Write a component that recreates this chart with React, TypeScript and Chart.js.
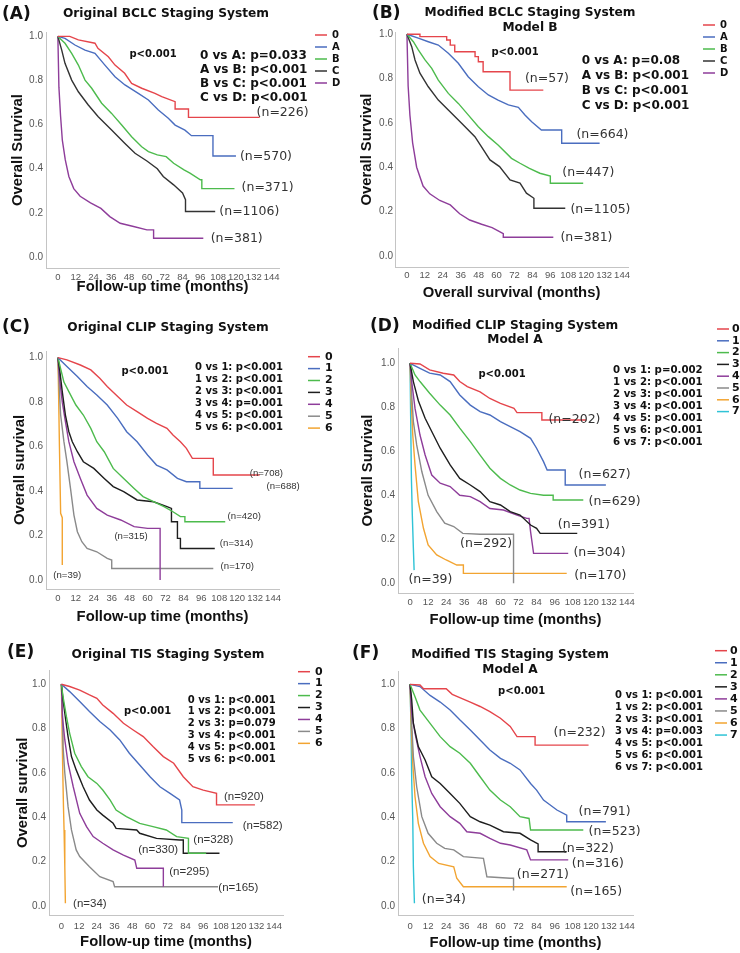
import React, { useEffect, useRef } from 'react';
import { Chart, registerables } from 'chart.js';
Chart.register(...registerables);

type Pt = [number, number];

// ---------- shared ticks ----------
const xTicks = [0, 12, 24, 36, 48, 60, 72, 84, 96, 108, 120, 132, 144];
const yTicks = [0, 0.2, 0.4, 0.6, 0.8, 1.0];

// ---------- Panel A: Original BCLC ----------
const aStages = ['0', 'A', 'B', 'C', 'D'];
const aN = [226, 570, 371, 1106, 381];
const aCompare = ['0 vs A: p=0.033', 'A vs B: p<0.001', 'B vs C: p<0.001', 'C vs D: p<0.001'];
const aS0: Pt[] = [[0, 1], [8, 1], [13.8, .984], [25, .969], [27, .946], [34, .908], [38.5, .87], [45, .833], [49.7, .787], [56.5, .765], [65.4, .742], [70, .727], [79, .704], [79, .671], [88, .671], [88, .633], [136, .633]];
const aSA: Pt[] = [[0, 1], [4.8, .991], [11.5, .961], [18.3, .938], [25, .923], [31.7, .87], [38.5, .817], [45.2, .78], [54.2, .742], [61, .712], [67.7, .666], [74.4, .629], [79, .598], [85.6, .575], [90, .55], [104.5, .55], [104.5, .458], [120, .458]];
const aSB: Pt[] = [[0, 1], [4.8, .969], [9.3, .923], [13.8, .87], [18.3, .802], [22.8, .765], [29.5, .697], [36.2, .651], [43, .598], [49.7, .545], [56.5, .50], [61, .478], [67, .463], [73, .455], [78, .425], [85, .395], [89, .38], [96, .35], [97, .35], [97, .31], [119, .31]];
const aSC: Pt[] = [[0, 1], [2.6, .938], [4.8, .878], [9.3, .802], [13.8, .749], [20.5, .689], [27.2, .636], [36.2, .576], [45.2, .515], [52, .47], [60, .435], [67, .40], [71, .365], [78, .327], [84, .29], [86, .26], [86, .206], [106, .206]];
const aSD: Pt[] = [[0, 1], [0.7, .77], [1.8, .64], [3, .53], [5, .44], [7.4, .365], [10.7, .31], [15, .275], [22, .245], [29, .22], [35, .183], [42, .153], [51, .138], [60, .123], [64.5, .123], [64.5, .085], [98, .085]];

// ---------- Panel B: Modified BCLC (Model B) ----------
const bStages = ['0', 'A', 'B', 'C', 'D'];
const bN = [57, 664, 447, 1105, 381];
const bCompare = ['0 vs A: p=0.08', 'A vs B: p<0.001', 'B vs C: p<0.001', 'C vs D: p<0.001'];
const bS0: Pt[] = [[0, 1], [8.7, 1], [8.7, .989], [26.6, .989], [26.6, .974], [29, .974], [29, .951], [32, .951], [32, .921], [45.6, .921], [45.6, .899], [47.8, .899], [47.8, .876], [51, .876], [51, .831], [69, .831], [69, .748], [91.3, .748]];
const bSA: Pt[] = [[0, 1], [7.6, .982], [14.3, .966], [21, .951], [27.7, .914], [34.4, .869], [41, .808], [47.8, .763], [54.5, .726], [61, .703], [67.9, .681], [74.6, .67], [79, .636], [83.5, .605], [90, .568], [103.6, .568], [103.6, .508], [129, .508]];
const bSB: Pt[] = [[0, 1], [4.3, .966], [7.6, .929], [12.1, .884], [16.6, .846], [21, .793], [27.7, .733], [34.4, .688], [41, .636], [47.8, .583], [54.5, .538], [61, .50], [70, .44], [75.7, .418], [82, .395], [89, .373], [96, .36], [96, .328], [118, .328]];
const bSC: Pt[] = [[0, 1], [3.2, .944], [5.4, .884], [8.7, .824], [14.3, .763], [21, .703], [27.7, .658], [36.6, .598], [45.5, .538], [52, .47], [55.6, .433], [62, .403], [69, .343], [75.7, .328], [80, .283], [85, .26], [85, .215], [106, .215]];
const bSD: Pt[] = [[0, 1], [0.8, .766], [2, .634], [3.8, .51], [6.5, .40], [10.8, .315], [15.3, .28], [22, .25], [29, .23], [35.3, .19], [42, .162], [50, .143], [57, .128], [62, .11], [64.5, .10], [64.5, .084], [98, .084]];

// ---------- Panel C: Original CLIP ----------
const cStages = ['0', '1', '2', '3', '4', '5', '6'];
const cN = [708, 688, 420, 314, 315, 170, 39];
const cCompare = ['0 vs 1: p<0.001', '1 vs 2: p<0.001', '2 vs 3: p<0.001', '3 vs 4: p=0.001', '4 vs 5: p<0.001', '5 vs 6: p<0.001'];
const cS0: Pt[] = [[0, 1], [6, .99], [15, .967], [22, .945], [28, .907], [33, .87], [40, .825], [46, .787], [53, .757], [60, .727], [66, .705], [73, .682], [77, .652], [82, .622], [86, .592], [90, .547], [104, .547], [104, .472], [135, .472]];
const cS1: Pt[] = [[0, 1], [6, .96], [13, .915], [19.5, .87], [26, .832], [33, .787], [40, .727], [46, .667], [53, .622], [60, .562], [66, .517], [73, .495], [80, .457], [86, .442], [95, .442], [95, .412], [117, .412]];
const cS2: Pt[] = [[0, 1], [1.8, .95], [4, .89], [7.3, .847], [12, .787], [17, .742], [22, .682], [26, .622], [31, .577], [37, .502], [44, .457], [51, .412], [57, .375], [64, .352], [71, .33], [77, .307], [82, .285], [85, .285], [85, .262], [112, .262]];
const cS3: Pt[] = [[0, 1], [1.3, .937], [2.9, .847], [5, .742], [7.3, .667], [9.6, .622], [13, .577], [17, .532], [24, .502], [31, .457], [37, .42], [44, .397], [53, .36], [64, .352], [73, .33], [76, .322], [76, .262], [80, .262], [80, .187], [82, .187], [82, .142], [105, .142]];
const cS4: Pt[] = [[0, 1], [1.3, .892], [2.9, .80], [5, .712], [7.3, .622], [10.7, .532], [15, .457], [19.5, .382], [26, .322], [33, .292], [42, .27], [51, .24], [60, .232], [68.4, .232], [68.4, 0]];
const cS5: Pt[] = [[0, 1], [0.7, .89], [1.8, .742], [4, .622], [6, .532], [8.4, .412], [10.7, .292], [13, .217], [16, .172], [19.5, .142], [26, .127], [33, .097], [36, .09], [36, .052], [104, .052]];
const cS6: Pt[] = [[0, 1], [0.4, .85], [1, .6], [1.8, .3], [2.9, .28], [2.9, .067]];

// ---------- Panel D: Modified CLIP (Model A) ----------
const dStages = ['0', '1', '2', '3', '4', '5', '6', '7'];
const dN = [202, 627, 629, 391, 304, 292, 170, 39];
const dCompare = ['0 vs 1: p=0.002', '1 vs 2: p<0.001', '2 vs 3: p<0.001', '3 vs 4: p<0.001', '4 vs 5: p<0.001', '5 vs 6: p<0.001', '6 vs 7: p<0.001'];
const dS0: Pt[] = [[0, 1], [6.6, .997], [13, .97], [22, .955], [29, .947], [33, .917], [38, .894], [46.5, .87], [53, .84], [60, .818], [69, .795], [71, .776], [87.5, .776], [87.5, .742], [117, .742]];
const dS1: Pt[] = [[0, 1], [6.6, .977], [13, .955], [20, .947], [26.6, .917], [33, .856], [40, .81], [46.5, .78], [53, .765], [60, .735], [66.5, .712], [73, .689], [80, .659], [84, .614], [88.6, .553], [91, .515], [103, .515], [103, .447], [130, .447]];
const dS2: Pt[] = [[0, 1], [3.3, .947], [6.6, .917], [13, .864], [20, .81], [26.6, .765], [33, .705], [40, .644], [46.5, .583], [53, .523], [60, .477], [66.5, .447], [73, .424], [80, .409], [88.6, .40], [95, .40], [95, .379], [115, .379]];
const dS3: Pt[] = [[0, 1], [2.2, .917], [5.5, .83], [10, .75], [14.4, .69], [20, .614], [26.6, .538], [33, .477], [40, .447], [46.5, .417], [53, .371], [60, .356], [66.5, .326], [73, .31], [80, .265], [84, .25], [86.4, .227], [111, .227]];
const dS4: Pt[] = [[0, 1], [1.1, .917], [3.3, .795], [6.6, .674], [10, .583], [14.4, .492], [20, .455], [26.6, .44], [33, .40], [40, .394], [46.5, .371], [53, .34], [62, .333], [71, .31], [77.5, .295], [79, .295], [80, .235], [82, .136], [105, .136]];
const dS5: Pt[] = [[0, 1], [1.1, .856], [2.2, .735], [4.4, .629], [7.8, .508], [12, .40], [17.7, .326], [23, .273], [29, .258], [35, .227], [46.5, .223], [68.7, .223], [68.7, 0]];
const dS6: Pt[] = [[0, 1], [0.7, .84], [1.8, .674], [3.3, .538], [5.5, .371], [8.9, .25], [12, .174], [17.7, .129], [24, .106], [31, .083], [35.4, .083], [35.4, .045], [104, .045]];
const dS7: Pt[] = [[0, 1], [0.4, .76], [0.9, .477], [1.5, .31], [2.2, .16], [2.7, .06]];

// ---------- Panel E: Original TIS ----------
const eStages = ['0', '1', '2', '3', '4', '5', '6'];
const eN = [920, 582, 328, 330, 295, 165, 34];
const eCompare = ['0 vs 1: p<0.001', '1 vs 2: p<0.001', '2 vs 3: p=0.079', '3 vs 4: p<0.001', '4 vs 5: p<0.001', '5 vs 6: p<0.001'];
const eS0: Pt[] = [[0, 1], [5.6, .99], [12.4, .974], [19, .952], [24, .937], [28, .907], [35, .869], [42, .824], [48.6, .794], [55.4, .764], [62, .719], [69, .674], [76, .644], [82.5, .583], [89, .538], [96, .523], [105, .508], [105, .456], [131, .456]];
const eS1: Pt[] = [[0, 1], [5.6, .967], [12.4, .922], [19, .877], [26, .832], [33, .794], [39.5, .749], [46, .689], [53, .636], [60, .583], [66.7, .538], [73.5, .508], [80, .478], [81.5, .433], [81.5, .376], [116, .376]];
const eS2: Pt[] = [[0, 1], [1.1, .944], [3.4, .854], [5.6, .779], [9, .689], [13.5, .629], [18, .583], [24, .553], [28, .523], [33, .478], [37, .433], [44, .403], [53, .373], [62, .358], [71, .343], [78, .313], [86, .305], [86, .238], [98, .238]];
const eS3: Pt[] = [[0, 1], [1.1, .93], [2.9, .839], [4.5, .764], [6.8, .674], [10, .614], [14.7, .538], [19, .478], [24, .433], [28, .41], [35, .373], [37, .35], [51, .343], [53, .328], [64.4, .305], [80, .298], [82.5, .298], [82.5, .238], [107, .238]];
const eS4: Pt[] = [[0, 1], [0.7, .854], [2.3, .749], [4.5, .644], [8, .538], [12.4, .418], [17, .358], [21.5, .313], [28, .283], [35, .253], [42, .23], [49.7, .207], [51, .17], [69, .17], [69, .087]];
const eS5: Pt[] = [[0, 1], [0.7, .87], [1.1, .72], [2.3, .60], [4.5, .448], [6.8, .343], [10, .253], [12.4, .223], [19, .177], [26, .132], [35, .11], [36, .087], [106, .087]];
const eS6: Pt[] = [[0, 1], [0.45, .794], [0.9, .613], [1.4, .448], [1.8, .343], [2.3, .177], [2.7, .012]];

// ---------- Panel F: Modified TIS (Model A) ----------
const fStages = ['0', '1', '2', '3', '4', '5', '6', '7'];
const fN = [232, 791, 523, 322, 316, 271, 165, 34];
const fCompare = ['0 vs 1: p<0.001', '1 vs 2: p<0.001', '2 vs 3: p<0.001', '3 vs 4: p=0.003', '4 vs 5: p<0.001', '5 vs 6: p<0.001', '6 vs 7: p<0.001'];
const fS0: Pt[] = [[0, 1], [6.6, .997], [9, .98], [24, .98], [28, .955], [33, .94], [40, .92], [46.5, .90], [53, .877], [60, .847], [66.5, .81], [71, .764], [83, .764], [83, .726], [118.5, .726]];
const fS1: Pt[] = [[0, 1], [6.6, .99], [13.3, .95], [20, .92], [26.6, .884], [33, .84], [40, .794], [46.5, .749], [53, .704], [60, .666], [66.5, .644], [73, .614], [80, .553], [84, .523], [88.6, .478], [97.5, .433], [104, .41], [104, .38], [130, .38]];
const fS2: Pt[] = [[0, 1], [3.3, .944], [6.6, .884], [13.3, .824], [20, .764], [26.6, .719], [33, .689], [40, .644], [46.5, .583], [53, .523], [60, .478], [66.5, .448], [73, .403], [79, .395], [80, .343], [115, .343]];
const fS3: Pt[] = [[0, 1], [1.1, .93], [2.2, .824], [5.5, .719], [10, .659], [14.4, .583], [20, .553], [26.6, .508], [33, .463], [40, .403], [46.5, .38], [53, .365], [62, .335], [73, .328], [80, .298], [85, .28], [85, .245], [104, .245]];
const fS4: Pt[] = [[0, 1], [1.1, .87], [3.3, .779], [6.6, .674], [10, .583], [14.4, .508], [20, .448], [26.6, .403], [33, .373], [37.7, .335], [46.5, .328], [53, .305], [60, .283], [66.5, .275], [77.5, .253], [80, .208], [105, .208]];
const fS5: Pt[] = [[0, 1], [1.1, .824], [2.2, .674], [4.4, .538], [7.8, .403], [12, .328], [17.7, .283], [23, .26], [29, .253], [35.4, .223], [48.7, .215], [51, .132], [66.5, .125], [68.7, .125], [68.7, .07]];
const fS6: Pt[] = [[0, 1], [0.7, .824], [1.8, .644], [3.3, .493], [5.5, .373], [8.9, .283], [13.3, .223], [19, .192], [29, .177], [31, .125], [35.4, .087], [104, .087]];
const fS7: Pt[] = [[0, 1], [0.7, .79], [1.1, .568], [1.8, .39], [2.2, .177], [2.9, .012]];

// ---------- styles (kept apart from data) ----------
const palette = ['#e5454b', '#4a6dbf', '#4dbb4d', '#1e1e1e', '#8e3d9a', '#8a8a8a', '#f2a431', '#2fc3d6'];
const bclcPalette = ['#e5454b', '#4a6dbf', '#4dbb4d', '#333333', '#8e3d9a'];

// n-label anchor positions in data space (months, survival)
const aNPos: Pt[] = [[133.9, .652], [122.7, .455], [123.8, .312], [108.8, .206], [103, .081]];
const bNPos: Pt[] = [[79, .798], [113.5, .546], [104, .373], [109.5, .21], [102.8, .084]];
const cNPos: Pt[] = [[128.4, .48], [139.6, .42], [113.6, .285], [108.4, .165], [37.8, .195], [108.9, .06], [-3.1, .022]];
const dNPos: Pt[] = [[91.9, .745], [111.9, .492], [118.5, .371], [98.1, .265], [108.5, .141], [33.2, .182], [109, .035], [-1.1, .015]];
const eNPos: Pt[] = [[110, .493], [122.7, .36], [89.3, .298], [52, .253], [73, .152], [106.2, .083], [7.9, .009]];
const fNPos: Pt[] = [[95.3, .782], [111.9, .426], [118.5, .335], [100.8, .26], [107.4, .192], [70.9, .14], [106.3, .065], [7.8, .027]];

type TextItem = { text: string; x: number; y: number; font: string; align?: CanvasTextAlign };
type PanelSpec = {
  left: number; top: number; width: number; height: number;
  padding: { top: number; right: number; bottom: number; left: number };
  yWidth: number; xHeight: number;
  xMin: number; xMax: number; yMin: number; yMax: number;
  yTitle: string | null; yTitlePad: number; xTitle: string; xTitlePad: number;
  yTickPad: number; xTickPad: number;
  curves: { label: string; pts: Pt[]; color: string }[];
  texts: TextItem[];
  legend: { x0: number; x1: number; labelX: number; y0: number; dy: number; font: string };
  pBlock: { x: number; y0: number; dy: number; font: string; lines: string[] };
  nLabels: { text: string; at: Pt }[];
  nFont: string;
};

const DV = "'DejaVu Sans', Verdana, sans-serif";
const LS = "'Liberation Sans', Arial, sans-serif";
const TITLE_FONT = `bold 12.2px ${DV}`;
const PANEL_FONT = `bold 17px ${DV}`;
const PMAIN_FONT = `bold 10px ${DV}`;

function curvesOf(labels: string[], series: Pt[][], colors: string[]) {
  return labels.map((l, i) => ({ label: l, pts: series[i], color: colors[i] }));
}
function nOf(ns: number[], pos: Pt[]) {
  return ns.map((n, i) => ({ text: `(n=${n})`, at: pos[i] }));
}

const panels: PanelSpec[] = [
  {
    left: 0, top: 0, width: 355, height: 315,
    padding: { top: 32, right: 76, bottom: 0, left: 0 }, yWidth: 46, xHeight: 47,
    xMin: -8, xMax: 149, yMin: -0.05, yMax: 1.02,
    yTitle: 'Overall Survival', yTitlePad: 9, xTitle: 'Follow-up time (months)', xTitlePad: 19,
    yTickPad: 3, xTickPad: 4,
    curves: curvesOf(aStages, [aS0, aSA, aSB, aSC, aSD], bclcPalette),
    texts: [
      { text: '(A)', x: 2, y: 15, font: PANEL_FONT },
      { text: 'Original BCLC Staging System', x: 166, y: 14, font: TITLE_FONT, align: 'center' },
      { text: 'p<0.001', x: 153, y: 54, font: PMAIN_FONT, align: 'center' },
    ],
    legend: { x0: 315, x1: 327, labelX: 332, y0: 35, dy: 12, font: `bold 10px ${DV}` },
    pBlock: { x: 200, y0: 56, dy: 14, font: `bold 12px ${DV}`, lines: aCompare },
    nLabels: nOf(aN, aNPos), nFont: `12.5px ${DV}`,
  },
  {
    left: 355, top: 0, width: 385, height: 315,
    padding: { top: 32, right: 112, bottom: 0, left: 0 }, yWidth: 40, xHeight: 48,
    xMin: -8, xMax: 148, yMin: -0.05, yMax: 1.01,
    yTitle: 'Overall Survival', yTitlePad: 3.5, xTitle: 'Overall survival (months)', xTitlePad: 13,
    yTickPad: 2, xTickPad: 3,
    curves: curvesOf(bStages, [bS0, bSA, bSB, bSC, bSD], bclcPalette),
    texts: [
      { text: '(B)', x: 17, y: 14, font: PANEL_FONT },
      { text: 'Modified BCLC Staging System', x: 175, y: 12.7, font: TITLE_FONT, align: 'center' },
      { text: 'Model B', x: 175, y: 28.3, font: TITLE_FONT, align: 'center' },
      { text: 'p<0.001', x: 160, y: 52, font: PMAIN_FONT, align: 'center' },
    ],
    legend: { x0: 348, x1: 360, labelX: 365, y0: 25, dy: 12, font: `bold 10px ${DV}` },
    pBlock: { x: 226.7, y0: 61, dy: 14.8, font: `bold 12px ${DV}`, lines: bCompare },
    nLabels: nOf(bN, bNPos), nFont: `12.5px ${DV}`,
  },
  {
    left: 0, top: 315, width: 355, height: 315,
    padding: { top: 36, right: 76, bottom: 0, left: 0 }, yWidth: 46, xHeight: 41,
    xMin: -8, xMax: 148, yMin: -0.0405, yMax: 1.03,
    yTitle: 'Overall survival', yTitlePad: 11, xTitle: 'Follow-up time (months)', xTitlePad: 4,
    yTickPad: 3, xTickPad: 4,
    curves: curvesOf(cStages, [cS0, cS1, cS2, cS3, cS4, cS5, cS6], palette),
    texts: [
      { text: '(C)', x: 2, y: 12.5, font: PANEL_FONT },
      { text: 'Original CLIP Staging System', x: 168, y: 12.7, font: TITLE_FONT, align: 'center' },
      { text: 'p<0.001', x: 145, y: 56, font: PMAIN_FONT, align: 'center' },
    ],
    legend: { x0: 308, x1: 320, labelX: 325, y0: 41.7, dy: 11.9, font: `bold 11px ${DV}` },
    pBlock: { x: 195, y0: 52.7, dy: 12, font: `bold 10px ${DV}`, lines: cCompare },
    nLabels: nOf(cN, cNPos), nFont: `9.6px ${LS}`,
  },
  {
    left: 355, top: 315, width: 385, height: 315,
    padding: { top: 33, right: 107, bottom: 0, left: 0 }, yWidth: 43, xHeight: 37,
    xMin: -8, xMax: 148, yMin: -0.044, yMax: 1.0695,
    yTitle: 'Overall Survival', yTitlePad: 4, xTitle: 'Follow-up time (months)', xTitlePad: 1,
    yTickPad: 3, xTickPad: 4,
    curves: curvesOf(dStages, [dS0, dS1, dS2, dS3, dS4, dS5, dS6, dS7], palette),
    texts: [
      { text: '(D)', x: 15, y: 11.7, font: PANEL_FONT },
      { text: 'Modified CLIP Staging System', x: 160, y: 10.7, font: TITLE_FONT, align: 'center' },
      { text: 'Model A', x: 160, y: 25, font: TITLE_FONT, align: 'center' },
      { text: 'p<0.001', x: 147, y: 59.3, font: PMAIN_FONT, align: 'center' },
    ],
    legend: { x0: 362, x1: 374, labelX: 377, y0: 14, dy: 11.8, font: `bold 11px ${DV}` },
    pBlock: { x: 258, y0: 55, dy: 12, font: `bold 10.2px ${DV}`, lines: dCompare },
    nLabels: nOf(dN, dNPos), nFont: `12.5px ${DV}`,
  },
  {
    left: 0, top: 630, width: 345, height: 323,
    padding: { top: 40, right: 62, bottom: 0, left: 0 }, yWidth: 49, xHeight: 37.3,
    xMin: -8.4, xMax: 150, yMin: -0.0437, yMax: 1.0645,
    yTitle: 'Overall survival', yTitlePad: 14, xTitle: 'Follow-up time (months)', xTitlePad: 2.4,
    yTickPad: 3, xTickPad: 4.5,
    curves: curvesOf(eStages, [eS0, eS1, eS2, eS3, eS4, eS5, eS6], palette),
    texts: [
      { text: '(E)', x: 7, y: 23, font: PANEL_FONT },
      { text: 'Original TIS Staging System', x: 168, y: 25, font: TITLE_FONT, align: 'center' },
      { text: 'p<0.001', x: 147.5, y: 81, font: PMAIN_FONT, align: 'center' },
    ],
    legend: { x0: 298, x1: 310, labelX: 315, y0: 41.7, dy: 11.94, font: `bold 11px ${DV}` },
    pBlock: { x: 187.7, y0: 70, dy: 11.9, font: `bold 10px ${DV}`, lines: eCompare },
    nLabels: nOf(eN, eNPos), nFont: `11.5px ${LS}`,
  },
  {
    left: 345, top: 630, width: 395, height: 323,
    padding: { top: 41.7, right: 107, bottom: 0, left: 0 }, yWidth: 53, xHeight: 37.3,
    xMin: -8, xMax: 148, yMin: -0.0437, yMax: 1.057,
    yTitle: null, yTitlePad: 0, xTitle: 'Follow-up time (months)', xTitlePad: 1.1,
    yTickPad: 3, xTickPad: 4.5,
    curves: curvesOf(fStages, [fS0, fS1, fS2, fS3, fS4, fS5, fS6, fS7], palette),
    texts: [
      { text: '(F)', x: 7, y: 24, font: PANEL_FONT },
      { text: 'Modified TIS Staging System', x: 165, y: 25, font: TITLE_FONT, align: 'center' },
      { text: 'Model A', x: 165, y: 40, font: TITLE_FONT, align: 'center' },
      { text: 'p<0.001', x: 176.7, y: 61, font: PMAIN_FONT, align: 'center' },
    ],
    legend: { x0: 370, x1: 382, labelX: 385, y0: 20.7, dy: 12.05, font: `bold 11px ${DV}` },
    pBlock: { x: 270, y0: 65, dy: 12.05, font: `bold 10px ${DV}`, lines: fCompare },
    nLabels: nOf(fN, fNPos), nFont: `12.5px ${DV}`,
  },
];

function makeTextPlugin(s: PanelSpec) {
  return {
    id: 'panelText',
    afterDraw(chart: any) {
      const ctx: CanvasRenderingContext2D = chart.ctx;
      ctx.save();
      ctx.textBaseline = 'middle';
      ctx.fillStyle = '#111';
      for (const t of s.texts) {
        ctx.font = t.font;
        ctx.textAlign = t.align || 'left';
        ctx.fillText(t.text, t.x, t.y);
      }
      ctx.textAlign = 'left';
      ctx.font = s.pBlock.font;
      s.pBlock.lines.forEach((l, i) => ctx.fillText(l, s.pBlock.x, s.pBlock.y0 + i * s.pBlock.dy));
      s.curves.forEach((c, i) => {
        const y = s.legend.y0 + i * s.legend.dy;
        ctx.strokeStyle = c.color;
        ctx.lineWidth = 1.5;
        ctx.beginPath();
        ctx.moveTo(s.legend.x0, y);
        ctx.lineTo(s.legend.x1, y);
        ctx.stroke();
        ctx.font = s.legend.font;
        ctx.fillStyle = '#111';
        ctx.fillText(c.label, s.legend.labelX, y);
      });
      const xs = chart.scales.x;
      const ys = chart.scales.y;
      ctx.font = s.nFont;
      ctx.fillStyle = '#333';
      s.nLabels.forEach((n) => ctx.fillText(n.text, xs.getPixelForValue(n.at[0]), ys.getPixelForValue(n.at[1])));
      ctx.restore();
    },
  };
}

function buildConfig(s: PanelSpec): any {
  const xTickFont = { family: "'Liberation Sans Narrow', 'Liberation Sans', Arial, sans-serif", size: 9.5 };
  const yTickFont = { family: "'Liberation Sans Narrow', 'Liberation Sans', Arial, sans-serif", size: 10 };
  const axisTitleFont = { family: LS, size: 14.8, weight: 'bold' };
  return {
    type: 'line',
    data: {
      datasets: s.curves.map((c) => ({
        label: c.label,
        data: c.pts.map(([x, y]) => ({ x, y })),
        borderColor: c.color,
        backgroundColor: c.color,
        borderWidth: 1.4,
        pointRadius: 0,
        pointHoverRadius: 0,
        fill: false,
        tension: 0,
      })),
    },
    options: {
      responsive: false,
      maintainAspectRatio: false,
      animation: false,
      devicePixelRatio: 1,
      events: [],
      layout: { padding: s.padding },
      plugins: { legend: { display: false }, tooltip: { enabled: false }, title: { display: false } },
      scales: {
        x: {
          type: 'linear', min: s.xMin, max: s.xMax,
          afterBuildTicks: (sc: any) => { sc.ticks = xTicks.map((v) => ({ value: v })); },
          afterFit: (sc: any) => { sc.height = s.xHeight; },
          grid: { display: false, drawTicks: false },
          border: { display: true, color: '#c4c4c4', width: 1 },
          ticks: { autoSkip: false, maxRotation: 0, minRotation: 0, padding: s.xTickPad, color: '#555', font: xTickFont, callback: (v: any) => String(v) },
          title: { display: true, text: s.xTitle, color: '#111', font: axisTitleFont, padding: { top: 0, bottom: s.xTitlePad } },
        },
        y: {
          type: 'linear', min: s.yMin, max: s.yMax,
          afterBuildTicks: (sc: any) => { sc.ticks = yTicks.map((v) => ({ value: v })); },
          afterFit: (sc: any) => { sc.width = s.yWidth; },
          grid: { display: false, drawTicks: false },
          border: { display: true, color: '#c4c4c4', width: 1 },
          ticks: { autoSkip: false, padding: s.yTickPad, color: '#555', font: yTickFont, callback: (v: any) => Number(v).toFixed(1) },
          title: { display: !!s.yTitle, text: s.yTitle || '', color: '#111', font: axisTitleFont, padding: { top: s.yTitlePad, bottom: 0 } },
        },
      },
    },
    plugins: [makeTextPlugin(s)],
  };
}

function Panel({ spec }: { spec: PanelSpec }) {
  const ref = useRef<HTMLCanvasElement>(null);
  useEffect(() => {
    const canvas = ref.current;
    if (!canvas) return;
    const chart = new Chart(canvas, buildConfig(spec));
    return () => chart.destroy();
  }, [spec]);
  return (
    <canvas
      ref={ref}
      width={spec.width}
      height={spec.height}
      style={{ position: 'absolute', left: spec.left, top: spec.top, width: spec.width, height: spec.height }}
    />
  );
}

export default function App() {
  return (
    <div style={{ position: 'absolute', left: 0, top: 0, width: 740, height: 953, background: '#fff', overflow: 'hidden' }}>
      {panels.map((p, i) => (
        <Panel key={i} spec={p} />
      ))}
    </div>
  );
}
